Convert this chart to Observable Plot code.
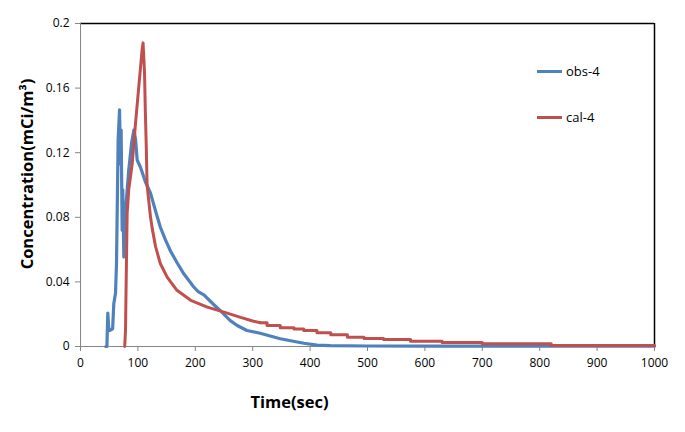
<!DOCTYPE html>
<html><head><meta charset="utf-8">
<script src="https://cdn.jsdelivr.net/npm/d3@7"></script>
<script src="https://cdn.jsdelivr.net/npm/@observablehq/plot@0.6"></script>
<style>
body{margin:0;background:#fff;}
#wrap{position:relative;width:685px;height:432px;font-family:"Open Sans",sans-serif;}
.leg{position:absolute;left:537px;display:flex;align-items:center;font-size:13px;color:#000;line-height:16px;}
.leg .sw{display:inline-block;width:25px;height:3px;margin-right:4px;}
</style></head><body><div id="wrap"></div>
<script>
// observed (obs-4): time (sec), concentration (mCi/m3)
const obsT = [44, 46, 47.6, 49, 50.5, 56, 58, 61, 62.7, 63.8, 65.6, 68, 69.7, 70.8, 72.6, 73.7, 75.5, 77.2, 79.6, 84, 89, 93, 96, 98.7, 104.5, 113, 122, 130.7, 139, 148, 157, 168, 180, 197, 205, 215, 232, 244, 261, 273, 290, 313, 348, 389, 412, 435, 500, 600, 700, 800, 900, 1000];
const obsC = [0, 0, 0.0207, 0.012, 0.0099, 0.011, 0.0265, 0.033, 0.051, 0.080, 0.128, 0.1466, 0.113, 0.134, 0.072, 0.097, 0.0555, 0.080, 0.0888, 0.109, 0.126, 0.134, 0.128, 0.1155, 0.111, 0.102, 0.095, 0.084, 0.074, 0.066, 0.059, 0.052, 0.045, 0.037, 0.034, 0.032, 0.026, 0.022, 0.016, 0.013, 0.0099, 0.0082, 0.0048, 0.002, 0.0008, 0.0005, 0.0003, 0.0002, 0.0002, 0.0002, 0.0002, 0.0002];
// calculated (cal-4): smooth part
const calT = [77, 78.4, 79.6, 81.3, 84, 90, 95.8, 101.6, 107.4, 109, 111.5, 113, 114.5, 116, 119, 122, 125, 130.7, 139, 151, 168, 192, 221, 250, 279, 300, 313];
const calC = [0, 0.01, 0.041, 0.0825, 0.097, 0.113, 0.138, 0.161, 0.184, 0.188, 0.17, 0.145, 0.125, 0.1, 0.09, 0.08, 0.073, 0.062, 0.0514, 0.043, 0.0348, 0.0286, 0.0244, 0.0213, 0.018, 0.0158, 0.0147];
// calculated (cal-4): stepped tail
const calTailT = [313, 325, 348, 372, 389, 412, 436, 465, 494, 528, 575, 630, 700, 820, 1000];
const calTailC = [0.0147, 0.0130, 0.0116, 0.0108, 0.0099, 0.0085, 0.0073, 0.0058, 0.005, 0.0043, 0.0033, 0.0025, 0.0017, 0.0006, 0.0006];

const seriesNames = ["obs-4", "cal-4"];
const seriesColors = ["#4F81BD", "#C0504D"];
const xTicks = [0, 100, 200, 300, 400, 500, 600, 700, 800, 900, 1000];
const yTicks = [0, 0.04, 0.08, 0.12, 0.16, 0.2];
const xLabel = "Time(sec)";
const yLabel = "Concentration(mCi/m³)";

const obs = obsT.map((t, i) => ({t, c: obsC[i]}));
const cal = calT.map((t, i) => ({t, c: calC[i]}));
const calTail = calTailT.map((t, i) => ({t, c: calTailC[i]}));

const plot = Plot.plot({
  width: 685, height: 432,
  marginLeft: 80, marginRight: 31, marginTop: 23, marginBottom: 86,
  style: {fontFamily: "Open Sans, sans-serif", fontSize: "12px", color: "#000", background: "#fff"},
  x: {domain: [0, 1000]},
  y: {domain: [0, 0.2]},
  marks: [
    Plot.ruleY([0.2], {stroke: "#000", strokeWidth: 1.5}),
    Plot.ruleX([1000], {stroke: "#000", strokeWidth: 1.5}),
    Plot.axisX({ticks: xTicks, tickSize: 5, tickPadding: 7, stroke: "#868686", fill: "#000", label: null, tickFormat: d => String(d)}),
    Plot.axisY({ticks: yTicks, tickSize: 5, tickPadding: 6, stroke: "#868686", fill: "#000", label: null, tickFormat: d => String(d)}),
    Plot.ruleY([0], {stroke: "#868686"}),
    Plot.ruleX([0], {stroke: "#868686"}),
    Plot.line(obs, {x: "t", y: "c", stroke: seriesColors[0], strokeWidth: 3.2, strokeLinejoin: "round"}),
    Plot.line(calTail, {x: "t", y: "c", stroke: seriesColors[1], strokeWidth: 3, curve: "step-after"}),
    Plot.line(cal, {x: "t", y: "c", stroke: seriesColors[1], strokeWidth: 3, strokeLinejoin: "round"}),
    Plot.text([xLabel], {text: d => d, frameAnchor: "bottom", dx: -78, dy: 61, fontWeight: "bold", fontSize: 16.5, fill: "#000"}),
    Plot.text([yLabel], {text: d => d, frameAnchor: "left", textAnchor: "middle", dx: -53, dy: -11, rotate: -90, fontWeight: "bold", fontSize: 16.5, fill: "#000"})
  ]
});
const wrap = document.getElementById("wrap");
wrap.appendChild(plot);
const legTops = [63, 109];
seriesNames.forEach((name, i) => {
  const d = document.createElement("div");
  d.className = "leg";
  d.style.top = legTops[i] + "px";
  d.innerHTML = `<span class="sw" style="background:${seriesColors[i]}"></span><span>${name}</span>`;
  wrap.appendChild(d);
});
</script></body></html>
